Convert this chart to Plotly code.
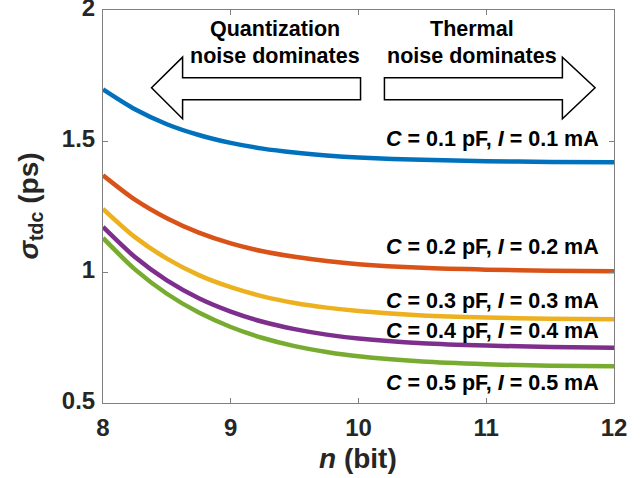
import plotly.graph_objects as go

n_bits = [8, 8.25, 8.5, 8.75, 9, 9.25, 9.5, 9.75, 10, 10.5, 11, 11.5, 12]
sigma_c01 = [1.697, 1.621, 1.564, 1.523, 1.493, 1.471, 1.456, 1.445, 1.437, 1.428, 1.423, 1.420, 1.419]
sigma_c02 = [1.369, 1.276, 1.205, 1.150, 1.109, 1.079, 1.058, 1.042, 1.030, 1.016, 1.009, 1.005, 1.003]
sigma_c03 = [1.241, 1.133, 1.051, 0.988, 0.942, 0.907, 0.882, 0.864, 0.851, 0.834, 0.826, 0.822, 0.820]
sigma_c04 = [1.172, 1.057, 0.968, 0.900, 0.849, 0.810, 0.782, 0.761, 0.746, 0.728, 0.719, 0.714, 0.711]
sigma_c05 = [1.130, 1.010, 0.917, 0.845, 0.790, 0.748, 0.717, 0.695, 0.678, 0.658, 0.648, 0.642, 0.640]

series_labels = ["<i>C</i> = 0.1 pF, <i>I</i> = 0.1 mA",
                 "<i>C</i> = 0.2 pF, <i>I</i> = 0.2 mA",
                 "<i>C</i> = 0.3 pF, <i>I</i> = 0.3 mA",
                 "<i>C</i> = 0.4 pF, <i>I</i> = 0.4 mA",
                 "<i>C</i> = 0.5 pF, <i>I</i> = 0.5 mA"]
label_y = [1.506, 1.097, 0.891, 0.773, 0.575]
x_ticks = [8, 9, 10, 11, 12]
y_ticks = [0.5, 1, 1.5, 2]
colors = ["#0072BD", "#D95319", "#EDB120", "#7E2F8E", "#77AC30"]

FONT = "Liberation Sans, Arial, sans-serif"
fig = go.Figure()
for ys, c in zip([sigma_c01, sigma_c02, sigma_c03, sigma_c04, sigma_c05], colors):
    fig.add_trace(go.Scatter(x=n_bits, y=ys, mode="lines",
                             line=dict(color=c, width=4.5, shape="spline", smoothing=0.8),
                             showlegend=False, hoverinfo="skip"))

for txt, yv in zip(series_labels, label_y):
    fig.add_annotation(x=11.9, y=yv, xref="x", yref="y", text="<b>" + txt + "</b>",
                       showarrow=False, xanchor="right", yanchor="middle",
                       font=dict(family=FONT, size=21.5, color="#000000"))

# arrows
fig.add_shape(type="path", xref="x", yref="y",
              path="M 10.016 1.741 L 8.623 1.741 L 8.623 1.820 L 8.380 1.703 L 8.623 1.585 L 8.623 1.657 L 10.016 1.657 Z",
              fillcolor="white", line=dict(color="black", width=1.5))
fig.add_shape(type="path", xref="x", yref="y",
              path="M 10.203 1.741 L 11.596 1.741 L 11.596 1.820 L 11.852 1.703 L 11.596 1.585 L 11.596 1.657 L 10.203 1.657 Z",
              fillcolor="white", line=dict(color="black", width=1.5))

for txt, xv, yv in [("Quantization", 9.345, 1.928), ("noise dominates", 9.345, 1.826),
                    ("Thermal", 10.89, 1.928), ("noise dominates", 10.89, 1.826)]:
    fig.add_annotation(x=xv, y=yv, xref="x", yref="y", text="<b>" + txt + "</b>",
                       showarrow=False, xanchor="center", yanchor="middle",
                       font=dict(family=FONT, size=21.5, color="#000000"))

# axis titles
fig.add_annotation(x=(358 - 103) / 511, y=-(458 - 403) / 393, xref="paper", yref="paper",
                   text="<b><i>n</i> (bit)</b>", showarrow=False,
                   xanchor="center", yanchor="middle",
                   font=dict(family=FONT, size=28, color="#262626"))
fig.add_annotation(x=-(103 - 30) / 511, y=0.5, xref="paper", yref="paper",
                   text="<b><i>σ</i><sub>tdc</sub> (ps)</b>", showarrow=False, textangle=-90,
                   xanchor="center", yanchor="middle",
                   font=dict(family=FONT, size=28, color="#262626"))

axis_common = dict(showgrid=False, zeroline=False, showline=True, linecolor="#808080",
                   linewidth=1, mirror="ticks", ticks="inside", ticklen=5,
                   tickcolor="#808080", tickwidth=1, automargin=False,
                   ticklabeloverflow="allow",
                   tickfont=dict(family=FONT, size=24, color="#262626"))
fig.update_xaxes(range=[8, 12], tickvals=x_ticks, ticktext=[f"<b>{v}</b>" for v in x_ticks],
                 ticklabelstandoff=3, **axis_common)
fig.update_yaxes(range=[0.5, 2], tickvals=y_ticks, ticktext=[f"<b>{v:g}</b>" for v in y_ticks],
                 ticklabelstandoff=2, ticklabelshift=-2, **axis_common)

fig.update_layout(width=644, height=478, margin=dict(l=103, r=30, t=10, b=75, autoexpand=False),
                  plot_bgcolor="white", paper_bgcolor="white")
fig.write_html("out.html", config={"displayModeBar": False},
               post_script="document.body.style.margin='0';document.body.style.overflow='hidden';")
